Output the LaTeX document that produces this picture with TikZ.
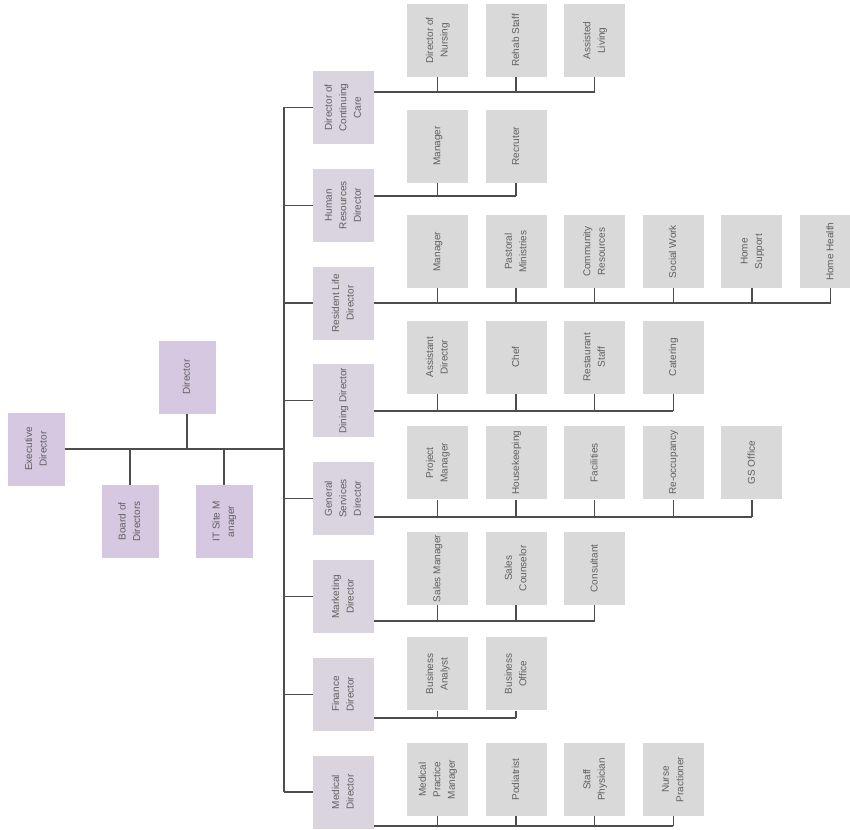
\documentclass[tikz,border=0pt]{standalone}
\usepackage{fontspec}
\setmainfont{Liberation Sans}
\usepackage{graphicx}
\definecolor{lav}{HTML}{D5C8E0}
\definecolor{dlav}{HTML}{DAD4DE}
\definecolor{cgray}{HTML}{D9D9D9}
\definecolor{wirec}{HTML}{4D4D4D}
\definecolor{txt}{HTML}{606060}
\newcommand\rt[1]{\rotatebox{90}{\begin{tabular}{@{}c@{}}#1\end{tabular}}}
\newcommand\nodefont{\fontsize{10}{14.5}\selectfont}
\tikzset{
  basebox/.style={rectangle, inner sep=0pt, minimum height=73pt, text=txt, font=\nodefont},
  lbox/.style={basebox, fill=lav, minimum width=57pt},
  dbox/.style={basebox, fill=dlav, minimum width=61pt},
  cbox/.style={basebox, fill=cgray, minimum width=61pt},
  wire/.style={draw=wirec, line width=1.3pt}
}
\begin{document}
\begin{tikzpicture}[x=1pt,y=-1pt]
\useasboundingbox (0,0) rectangle (850,829);
\clip (0,0) rectangle (850,829);
% left group
\node[lbox] (exec)  at (36.5,449)   {\rt{Executive\\Director}};
\node[lbox] (dir)   at (187,377)    {\rt{Director}};
\node[lbox] (board) at (130,521.5)  {\rt{Board of\\Directors}};
\node[lbox] (itm)   at (224,521.5)  {\rt{IT Site M\\anager}};
\coordinate (trunk) at (284,449);
% directors
\node[dbox] (d1) at (343.5,107.5) {\rt{Director of\\Continuing\\Care}};
\node[dbox] (d2) at (343.5,205.3) {\rt{Human\\Resources\\Director}};
\node[dbox] (d3) at (343.5,303.1) {\rt{Resident Life\\Director}};
\node[dbox] (d4) at (343.5,400.8) {\rt{Dining Director}};
\node[dbox] (d5) at (343.5,498.6) {\rt{General\\Services\\Director}};
\node[dbox] (d6) at (343.5,596.4) {\rt{Marketing\\Director}};
\node[dbox] (d7) at (343.5,694.2) {\rt{Finance\\Director}};
\node[dbox] (d8) at (343.5,792)   {\rt{Medical\\Director}};
% bus coordinates
\coordinate (b1) at (374,92);
\coordinate (b2) at (374,196);
\coordinate (b3) at (374,303);
\coordinate (b4) at (374,411);
\coordinate (b5) at (374,517);
\coordinate (b6) at (374,621);
\coordinate (b7) at (374,718);
\coordinate (b8) at (374,826);
% row 1
\node[cbox] (c11) at (437.5,40.5) {\rt{Director of\\Nursing}};
\node[cbox] (c12) at (516.1,40.5) {\rt{Rehab Staff}};
\node[cbox] (c13) at (594.7,40.5) {\rt{Assisted\\Living}};
% row 2
\node[cbox] (c21) at (437.5,146.1) {\rt{Manager}};
\node[cbox] (c22) at (516.1,146.1) {\rt{Recruter}};
% row 3
\node[cbox] (c31) at (437.5,251.6) {\rt{Manager}};
\node[cbox] (c32) at (516.1,251.6) {\rt{Pastoral\\Ministries}};
\node[cbox] (c33) at (594.7,251.6) {\rt{Community\\Resources}};
\node[cbox] (c34) at (673.3,251.6) {\rt{Social Work}};
\node[cbox] (c35) at (751.9,251.6) {\rt{Home\\Support}};
\node[cbox] (c36) at (830.5,251.6) {\rt{Home Health}};
% row 4
\node[cbox] (c41) at (437.5,357.2) {\rt{Assistant\\Director}};
\node[cbox] (c42) at (516.1,357.2) {\rt{Chef}};
\node[cbox] (c43) at (594.7,357.2) {\rt{Restaurant\\Staff}};
\node[cbox] (c44) at (673.3,357.2) {\rt{Catering}};
% row 5
\node[cbox] (c51) at (437.5,462.8) {\rt{Project\\Manager}};
\node[cbox] (c52) at (516.1,462.8) {\rt{Housekeeping}};
\node[cbox] (c53) at (594.7,462.8) {\rt{Facilities}};
\node[cbox] (c54) at (673.3,462.8) {\rt{Re-occupancy}};
\node[cbox] (c55) at (751.9,462.8) {\rt{GS Office}};
% row 6
\node[cbox] (c61) at (437.5,568.4) {\rt{Sales Manager}};
\node[cbox] (c62) at (516.1,568.4) {\rt{Sales\\Counselor}};
\node[cbox] (c63) at (594.7,568.4) {\rt{Consultant}};
% row 7
\node[cbox] (c71) at (437.5,673.9) {\rt{Business\\Analyst}};
\node[cbox] (c72) at (516.1,673.9) {\rt{Business\\Office}};
% row 8
\node[cbox] (c81) at (437.5,779.5) {\rt{Medical\\Practice\\Manager}};
\node[cbox] (c82) at (516.1,779.5) {\rt{Podiatrist}};
\node[cbox] (c83) at (594.7,779.5) {\rt{Staff\\Physician}};
\node[cbox] (c84) at (673.3,779.5) {\rt{Nurse\\Practioner}};
% left connectors
\draw[wire] (exec.east) -- (trunk);
\draw[wire] (dir.south) -- (dir.south |- trunk);
\draw[wire] (board.north) -- (board.north |- trunk);
\draw[wire] (itm.north) -- (itm.north |- trunk);
\draw[wire] (d1.west -| trunk) -- (d8.west -| trunk);
\foreach \d in {d1,d2,d3,d4,d5,d6,d7,d8} \draw[wire] (\d.west) -- (\d.west -| trunk);
% buses
\draw[wire] (b1) -- (b1 -| c13);
\foreach \c in {c11,c12,c13} \draw[wire] (\c.south) -- (\c.south |- b1);
\draw[wire] (b2) -- (b2 -| c22);
\foreach \c in {c21,c22} \draw[wire] (\c.south) -- (\c.south |- b2);
\draw[wire] (b3) -- (b3 -| c36);
\foreach \c in {c31,c32,c33,c34,c35,c36} \draw[wire] (\c.south) -- (\c.south |- b3);
\draw[wire] (b4) -- (b4 -| c44);
\foreach \c in {c41,c42,c43,c44} \draw[wire] (\c.south) -- (\c.south |- b4);
\draw[wire] (b5) -- (b5 -| c55);
\foreach \c in {c51,c52,c53,c54,c55} \draw[wire] (\c.south) -- (\c.south |- b5);
\draw[wire] (b6) -- (b6 -| c63);
\foreach \c in {c61,c62,c63} \draw[wire] (\c.south) -- (\c.south |- b6);
\draw[wire] (b7) -- (b7 -| c72);
\foreach \c in {c71,c72} \draw[wire] (\c.south) -- (\c.south |- b7);
\draw[wire] (b8) -- (b8 -| c84);
\foreach \c in {c81,c82,c83,c84} \draw[wire] (\c.south) -- (\c.south |- b8);
\end{tikzpicture}
\end{document}
